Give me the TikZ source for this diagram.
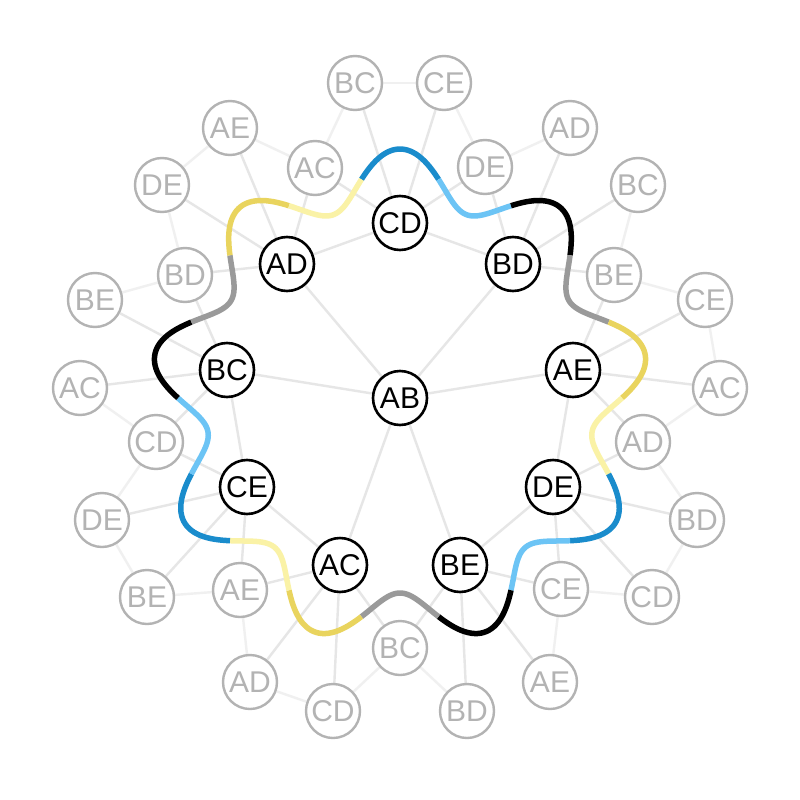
\documentclass[tikz,border=0pt]{standalone}
\usepackage{fontspec}
\setmainfont{Liberation Sans}
\definecolor{wc0}{HTML}{1A8CCC}
\definecolor{wc1}{HTML}{6CC4F5}
\definecolor{wc2}{HTML}{000000}
\definecolor{wc3}{HTML}{9A9A9A}
\definecolor{wc4}{HTML}{E9D45E}
\definecolor{wc5}{HTML}{FAF2A6}
\definecolor{edgein}{HTML}{E6E6E6}
\definecolor{edgeout}{HTML}{F0F0F0}
\definecolor{graynode}{HTML}{B3B3B3}
\pgfdeclarelayer{back}
\pgfdeclarelayer{bg}
\pgfsetlayers{back,bg,main}
\begin{document}
\begin{tikzpicture}[x=1pt,y=-1pt,
  edgea/.style={line width=2.4pt, draw=edgein},
  edgeb/.style={line width=2.4pt, draw=edgeout},
  blk/.style={circle, draw=black, line width=2.6pt, fill=white, minimum size=54pt, inner sep=0pt, text=black, font=\fontsize{30}{30}\selectfont},
  gry/.style={blk, draw=graynode, line width=2.4pt, text=graynode},
  wave/.style={line width=5.5pt}]
\begin{pgfonlayer}{back}
\fill[white] (0,0) rectangle (800,800);
\end{pgfonlayer}
\useasboundingbox (0,0) rectangle (800,800);
% center and inner ring
\node[blk] (c) at (400,398) {AB};
\node[blk] (i0) at (400,223) {CD};
\node[blk] (i1) at (513,264) {BD};
\node[blk] (i2) at (573,370) {AE};
\node[blk] (i3) at (553,487) {DE};
\node[blk] (i4) at (460,565) {BE};
\node[blk] (i5) at (340,565) {AC};
\node[blk] (i6) at (247,487) {CE};
\node[blk] (i7) at (227,370) {BC};
\node[blk] (i8) at (287,264) {AD};
% middle ring
\node[gry] (m0) at (485,167) {DE};
\node[gry] (m1) at (614,275) {BE};
\node[gry] (m2) at (643,442) {AD};
\node[gry] (m3) at (561,589) {CE};
\node[gry] (m4) at (400,648) {BC};
\node[gry] (m5) at (240,590) {AE};
\node[gry] (m6) at (156,442) {CD};
\node[gry] (m7) at (185,275) {BD};
\node[gry] (m8) at (315,168) {AC};
% outer ring
\node[gry] (p0) at (355,83) {BC};
\node[gry] (n0) at (444,83) {CE};
\node[gry] (p1) at (570,128) {AD};
\node[gry] (n1) at (638,185) {BC};
\node[gry] (p2) at (705,300) {CE};
\node[gry] (n2) at (720,388) {AC};
\node[gry] (p3) at (697,520) {BD};
\node[gry] (n3) at (652,597) {CD};
\node[gry] (p4) at (550,682) {AE};
\node[gry] (n4) at (467,711) {BD};
\node[gry] (p5) at (333,711) {CD};
\node[gry] (n5) at (250,682) {AD};
\node[gry] (p6) at (147,597) {BE};
\node[gry] (n6) at (102,520) {DE};
\node[gry] (p7) at (80,388) {AC};
\node[gry] (n7) at (95,300) {BE};
\node[gry] (p8) at (162,185) {DE};
\node[gry] (n8) at (230,128) {AE};
\begin{pgfonlayer}{bg}
  \foreach \k in {1,2,4,5,7,8} \draw[edgea] (c) -- (i\k);
  \foreach \a/\b in {0/1,2/3,3/4,5/6,6/7,8/0} \draw[edgea] (i\a) -- (i\b);
  \foreach \k in {0,...,8} {
    \pgfmathtruncatemacro\kk{mod(\k+1,9)}
    \draw[edgea] (i\k) -- (m\k);
    \draw[edgea] (i\kk) -- (m\k);
    \draw[edgea] (i\k) -- (p\k);
    \draw[edgea] (i\k) -- (n\k);
    \draw[edgeb] (m\k) -- (n\k);
    \draw[edgeb] (m\k) -- (p\kk);
  }
  \foreach \k in {0,2,3,5,6,8} \draw[edgeb] (p\k) -- (n\k);
\end{pgfonlayer}
% wave
\foreach \j in {0,...,17} {
  \pgfmathtruncatemacro\cc{mod(\j,6)}
  \pgfmathsetmacro\s{80-20*\j}
  \pgfmathsetmacro\e{\s+20}
  \draw[wave, draw=wc\cc] plot[domain=\s:\e, samples=30, variable=\t, smooth]
    ({400+(222+27*cos(9*(\t-90)))*cos(\t)}, {398-(222+27*cos(9*(\t-90)))*sin(\t)});
}
\end{tikzpicture}
\end{document}
